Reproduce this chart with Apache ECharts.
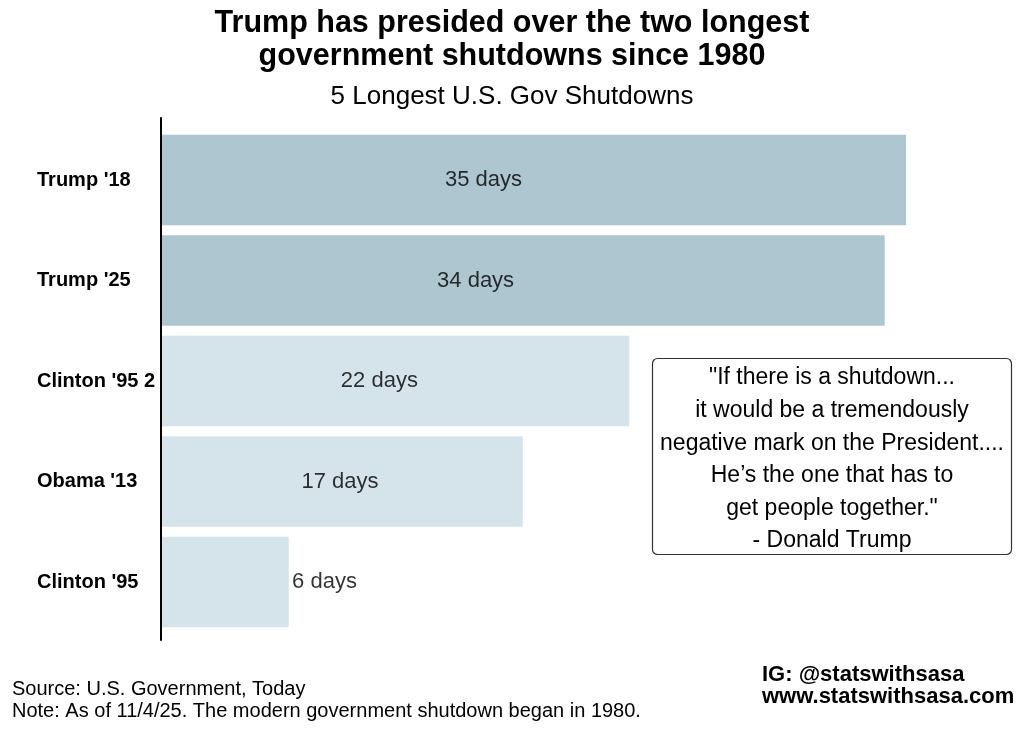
<!DOCTYPE html>
<html>
<head>
<meta charset="utf-8">
<script src="https://cdn.jsdelivr.net/npm/echarts@6/dist/echarts.min.js"></script>
<style>html,body{margin:0;padding:0;background:#fff}#c{width:1024px;height:731px}</style>
</head>
<body>
<div id="c"></div>
<script>
const categories = ["Trump '18", "Trump '25", "Clinton '95 2", "Obama '13", "Clinton '95"];
const days = [35, 34, 22, 17, 6];
const labelAt = [15.15, 14.78, 10.26, 8.41, 7.68];
const darkColor = '#aec6d0';
const lightColor = '#d5e4eb';
const barColors = [darkColor, darkColor, lightColor, lightColor, lightColor];
const quoteLines = ['"If there is a shutdown...', 'it would be a tremendously', 'negative mark on the President....', 'He\u2019s the one that has to', 'get people together."', '- Donald Trump'];

const FONT = '"Liberation Sans", Arial, sans-serif';
const chart = echarts.init(document.getElementById('c'));
chart.setOption({
  backgroundColor: '#fff',
  animation: false,
  textStyle: { fontFamily: FONT },
  title: [
    { text: 'Trump has presided over the two longest\ngovernment shutdowns since 1980', left: 'center', top: 2,
      textStyle: { fontSize: 30.5, fontWeight: 'bold', color: '#000', lineHeight: 33, fontFamily: FONT } },
    { text: '5 Longest U.S. Gov Shutdowns', left: 'center', top: 79,
      textStyle: { fontSize: 26, fontWeight: 'normal', color: '#000', fontFamily: FONT } },
    { text: 'Source: U.S. Government, Today\nNote: As of 11/4/25. The modern government shutdown began in 1980.', left: 7, top: 673,
      textStyle: { fontSize: 20, fontWeight: 'normal', color: '#000', lineHeight: 22, fontFamily: FONT } },
    { text: 'IG: @statswithsasa\nwww.statswithsasa.com', left: 757, top: 659,
      textStyle: { fontSize: 22, fontWeight: 'bold', color: '#000', lineHeight: 22, fontFamily: FONT } }
  ],
  grid: [
    { left: 161, right: 11.6, top: 129.75, bottom: 98.75, containLabel: false },
    { left: 161, right: 11.6, top: 118, bottom: 91, containLabel: false }
  ],
  xAxis: [
    { type: 'value', gridIndex: 0, min: 0, max: 40, show: false },
    { type: 'value', gridIndex: 1, min: 0, max: 40, show: false }
  ],
  yAxis: [
    { type: 'category', gridIndex: 0, data: categories, inverse: true,
      axisLine: { show: false }, axisTick: { show: false }, splitLine: { show: false },
      axisLabel: { align: 'left', margin: 124, fontSize: 20, fontWeight: 'bold', color: '#000', fontFamily: FONT } },
    { type: 'value', gridIndex: 1, min: 0, max: 1, z: 20,
      axisLine: { show: true, lineStyle: { color: '#000', width: 2 } },
      axisTick: { show: false }, axisLabel: { show: false }, splitLine: { show: false } }
  ],
  series: [
    { type: 'bar', xAxisIndex: 0, yAxisIndex: 0, barWidth: 90.5, z: 2,
      data: days.map((v, i) => ({ value: v, itemStyle: { color: barColors[i] } })),
      label: { show: false } },
    { type: 'scatter', xAxisIndex: 0, yAxisIndex: 0, symbolSize: 0, silent: true, z: 3,
      data: labelAt.map((x, i) => [x, categories[i]]),
      label: { show: true, position: 'inside', fontSize: 22, color: '#000', fontFamily: FONT,
        formatter: p => days[p.dataIndex] + ' days' } }
  ],
  graphic: [
    { type: 'rect', shape: { x: 652.5, y: 358.5, width: 359, height: 196, r: 5 },
      style: { fill: '#fff', stroke: '#333', lineWidth: 1.2 }, z: 10 },
    { type: 'text', x: 832, y: 459.5, z: 11,
      style: { text: quoteLines.join('\n'), align: 'center', verticalAlign: 'middle',
        fontSize: 23, lineHeight: 32.6, fill: '#000', fontFamily: FONT } }
  ]
});
</script>
</body>
</html>
